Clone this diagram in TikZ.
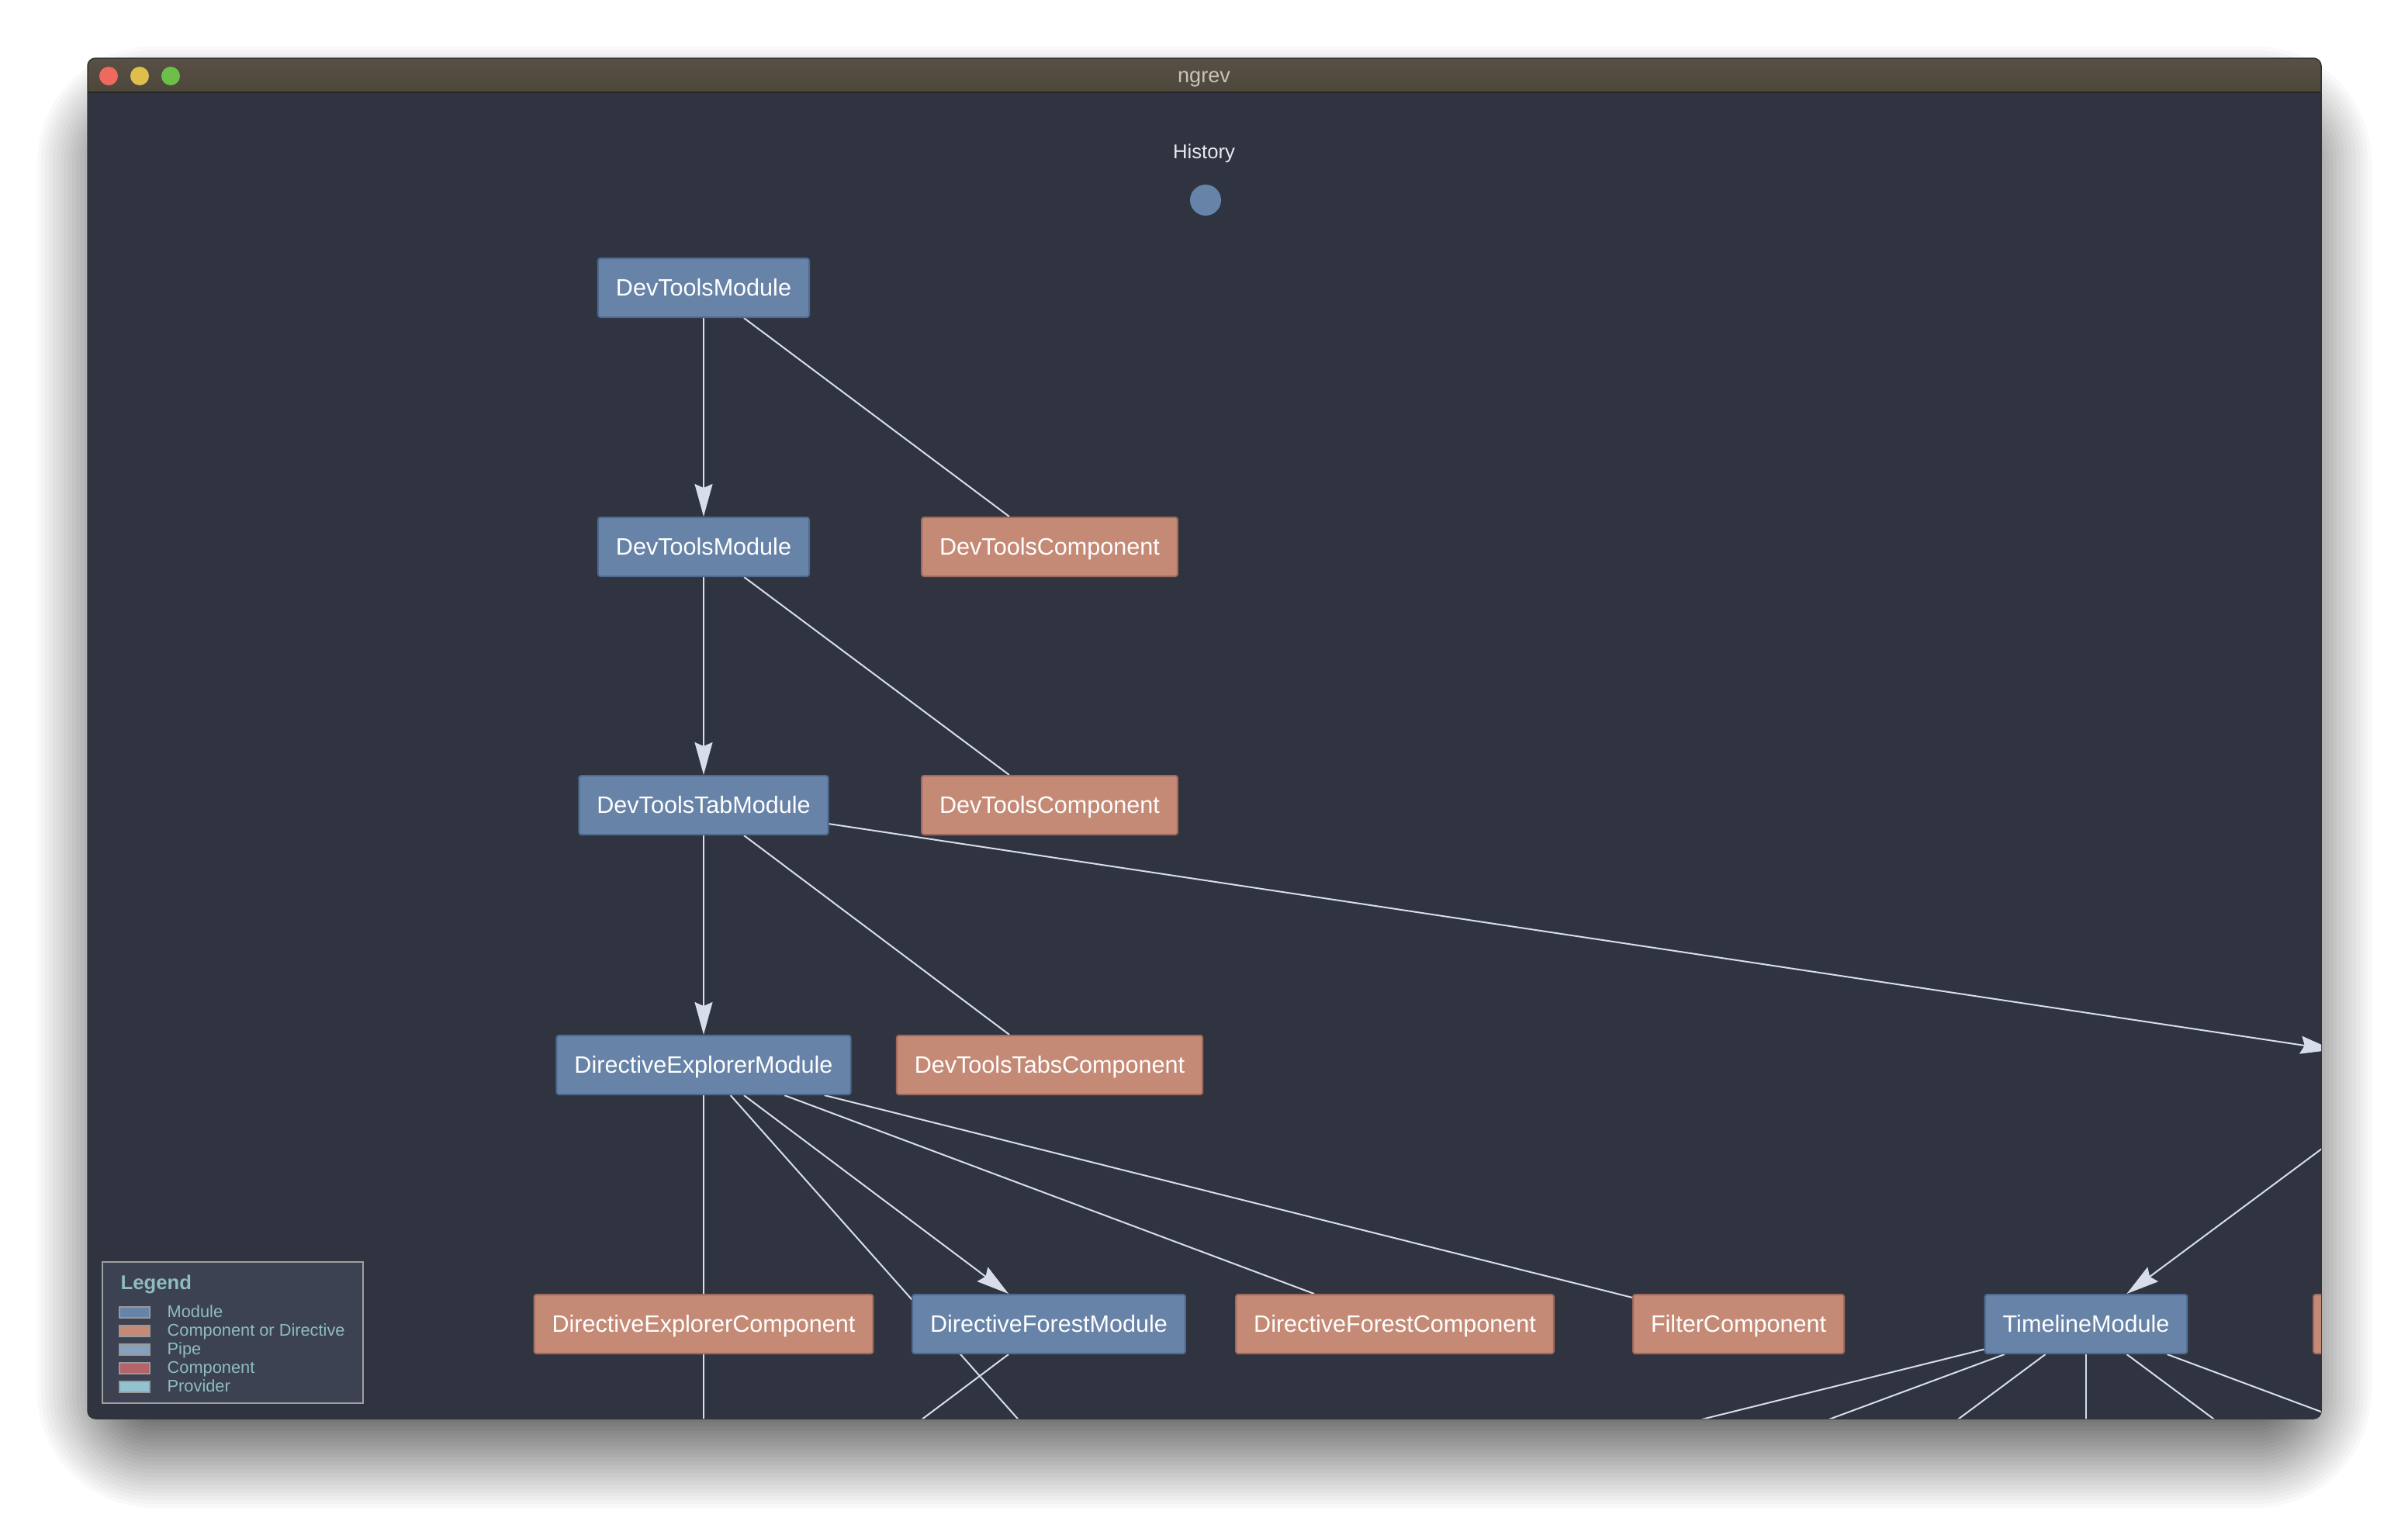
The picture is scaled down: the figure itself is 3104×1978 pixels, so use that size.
\documentclass[tikz,border=0pt]{standalone}
\usepackage{fontspec}
\setmainfont{Liberation Sans}
\usetikzlibrary{arrows.meta}

\definecolor{winbg}{HTML}{2F3440}
\definecolor{bartop}{HTML}{585045}
\definecolor{barbot}{HTML}{4D463B}
\definecolor{modfill}{HTML}{6783A8}
\definecolor{modline}{HTML}{4E6A91}
\definecolor{cmpfill}{HTML}{C58A76}
\definecolor{cmpline}{HTML}{9F6A5B}
\definecolor{edgecol}{HTML}{D8DEE9}
\definecolor{legfill}{HTML}{3C4252}
\definecolor{legtext}{HTML}{8FBCBF}
\definecolor{pipefill}{HTML}{87A0C0}
\definecolor{compfill}{HTML}{B4636B}
\definecolor{provfill}{HTML}{93C3D1}
\definecolor{histtext}{HTML}{E5E9F0}
\definecolor{titletext}{HTML}{C8C3B8}
\definecolor{lightred}{HTML}{EE6A5F}
\definecolor{lightyellow}{HTML}{E0BE4E}
\definecolor{lightgreen}{HTML}{6CC04A}

\pgfdeclarelayer{chrome}
\pgfdeclarelayer{links}
\pgfsetlayers{chrome,links,main}

\tikzset{
  ngnode/.style={rectangle, rounded corners=0.3mm, line width=0.2mm, minimum height=7.6mm,
    inner xsep=2.3mm, inner ysep=0pt, text=white, text height=2.18mm, text depth=0pt,
    font=\fontsize{8.7}{10}\selectfont},
  modnode/.style={ngnode, fill=modfill, draw=modline},
  declnode/.style={ngnode, fill=cmpfill, draw=cmpline},
  ghost/.style={rectangle, minimum width=26mm, minimum height=7.6mm, inner sep=0pt},
  link/.style={draw=edgecol, line width=0.2mm},
  import/.style={link, -{Stealth[length=4.2mm, width=2.3mm, inset=0.5mm, fill=edgecol]}},
  swatch/.style={fill=#1, draw=gray!80, line width=0.2mm},
  legitem/.style={anchor=base west, text=legtext, inner sep=0pt, font=\fontsize{6.2}{7}\selectfont}
}

\begin{document}
\begin{tikzpicture}[x=0.1mm, y=-0.1mm]
    \useasboundingbox (0,0) rectangle (3104,1978);

    %window chrome
    \begin{pgfonlayer}{chrome}
        \fill[white] (0,0) rectangle (3104,1978);
        %soft shadow, outer rings first
        \foreach \r in {70,65,...,-70}
        {
            \pgfmathsetmacro\p{(70-(\r))*65/140}
            \pgfmathsetmacro\rc{((\r)+80)*0.1+0.5}
            \fill[black!\p, rounded corners=\rc mm] ({113-(\r)},{125-(\r)}) rectangle ({2992+(\r)},{1879+(\r)});
        }
        \fill[winbg, rounded corners=1mm] (113,75) rectangle (2992,1829);
        \begin{scope}
            \clip[rounded corners=1mm] (113,75) rectangle (2992,1829);
            \fill[top color=bartop, bottom color=barbot] (113,75) rectangle (2992,119);
        \end{scope}
        \draw[black!85, line width=0.2mm] (113,119) -- (2992,119);
        \draw[black!80, line width=0.15mm, rounded corners=1mm] (113,75) rectangle (2992,1829);
        \fill[lightred] (140,98) circle (1.2mm);
        \fill[lightyellow] (180,98) circle (1.2mm);
        \fill[lightgreen] (220,98) circle (1.2mm);
    \end{pgfonlayer}
    \node[anchor=base, text=titletext, inner sep=0pt, font=\fontsize{7.7}{9}\selectfont] (winTitle) at (1552,106) {ngrev};

    \begin{scope}
        \clip[rounded corners=1mm] (113,119) rectangle (2992,1829);

        %history
        \node[anchor=base, text=histtext, inner sep=0pt, font=\fontsize{7.3}{9}\selectfont] (histLabel) at (1552,204) {History};
        \node[circle, fill=modfill, minimum size=4mm, inner sep=0pt] (histDot) at (1554,258) {};

        %modules and declarations
        \node[modnode] (devMod) at (907,371) {DevToolsModule};
        \node[modnode] (devModInner) at (907,705) {DevToolsModule};
        \node[declnode] (devCmp) at (1353,705) {DevToolsComponent};
        \node[modnode] (tabMod) at (907,1038) {DevToolsTabModule};
        \node[declnode] (devCmpInner) at (1353,1038) {DevToolsComponent};
        \node[modnode] (explMod) at (907,1373) {DirectiveExplorerModule};
        \node[declnode] (tabsCmp) at (1353,1373) {DevToolsTabsComponent};
        \node[ghost] (perfMod) at (3138,1373) {};
        \node[declnode] (explCmp) at (907,1707) {DirectiveExplorerComponent};
        \node[modnode] (forestMod) at (1352,1707) {DirectiveForestModule};
        \node[declnode] (forestCmp) at (1798,1707) {DirectiveForestComponent};
        \node[declnode] (filterCmp) at (2241,1707) {FilterComponent};
        \node[modnode] (timelineMod) at (2689,1707) {TimelineModule};
        \node[declnode, minimum width=31.2mm] (perfCmp) at (3138,1707) {};

        %next row, out of view
        \coordinate (nextA) at (907,2041);
        \coordinate (nextB) at (1500,2041);
        \coordinate (nextC) at (1343,2041);
        \coordinate (nextD) at (1788,2041);
        \coordinate (nextE) at (2240,2041);
        \coordinate (nextF) at (2689,2041);
        \coordinate (nextG) at (3138,2041);
        \coordinate (nextH) at (3584,2041);
    \end{scope}

    %connections
    \begin{pgfonlayer}{links}
        \clip[rounded corners=1mm] (113,119) rectangle (2992,1829);
        \draw[import] (devMod) -- (devModInner);
        \draw[link] (devMod) -- (devCmp);
        \draw[import] (devModInner) -- (tabMod);
        \draw[link] (devModInner) -- (devCmpInner);
        \draw[import] (tabMod) -- (explMod);
        \draw[link] (tabMod) -- (tabsCmp);
        \draw[import] (tabMod) -- (perfMod);
        \draw[import] (perfMod) -- (timelineMod);
        \draw[link] (explMod) -- (nextA);
        \draw[link] (explMod) -- (nextB);
        \draw[import] (explMod) -- (forestMod);
        \draw[link] (explMod) -- (forestCmp);
        \draw[link] (explMod) -- (filterCmp);
        \draw[link] (forestMod) -- (nextA);
        \draw[link] (timelineMod) -- (nextC);
        \draw[link] (timelineMod) -- (nextD);
        \draw[link] (timelineMod) -- (nextE);
        \draw[link] (timelineMod) -- (nextF);
        \draw[link] (timelineMod) -- (nextG);
        \draw[link] (timelineMod) -- (nextH);
    \end{pgfonlayer}

    %legend
    \draw[fill=legfill, draw=gray!75, line width=0.2mm] (132,1627) rectangle (468,1809);
    \node[anchor=base west, text=legtext, inner sep=0pt, font=\bfseries\fontsize{7.3}{8}\selectfont] (legTitle) at (155,1662) {Legend};
    \foreach \name/\col [count=\i] in {Module/modfill, Component or Directive/cmpfill, Pipe/pipefill, Component/compfill, Provider/provfill}
    {
        \draw[swatch=\col] (154,{1661+24*\i}) rectangle (193,{1675+24*\i});
        \node[legitem] (leg\i) at (215,{1674+24*\i}) {\name};
    }
\end{tikzpicture}
\end{document}
